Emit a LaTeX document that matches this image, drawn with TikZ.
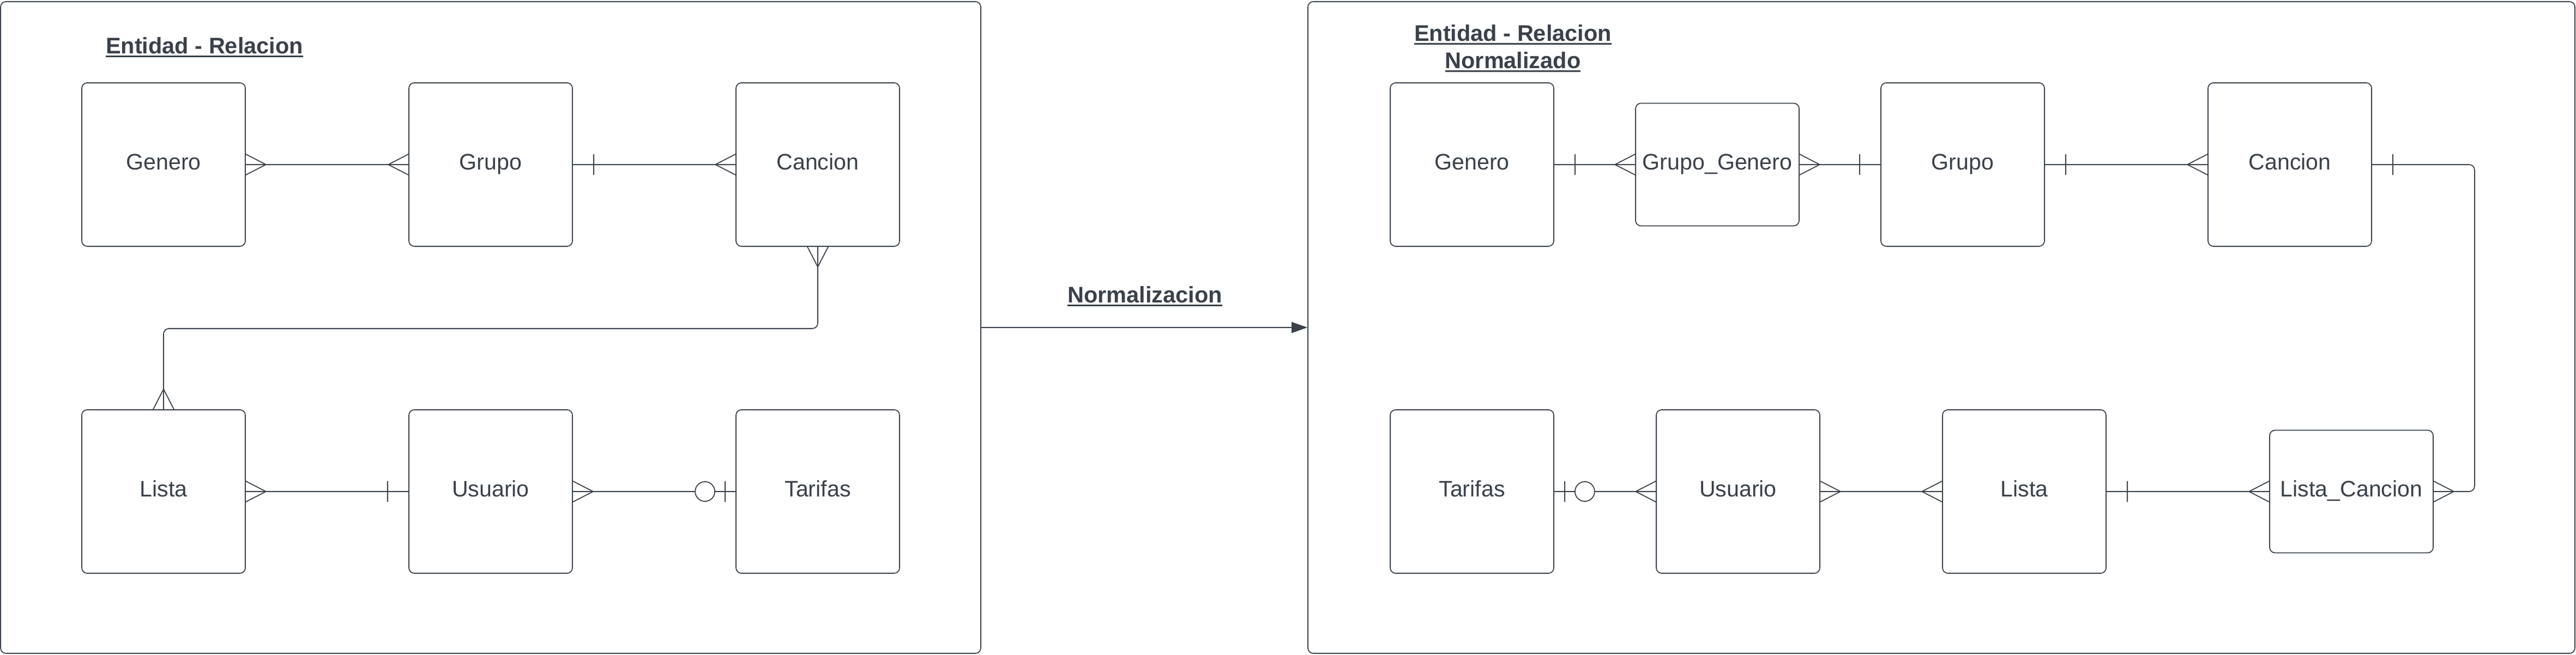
\documentclass[tikz,border=0pt]{standalone}
\usepackage{fontspec}
\setmainfont{Liberation Sans}
\usepackage{tikz}
\usetikzlibrary{arrows.meta}
\definecolor{tinta}{HTML}{3A414A}
\newcommand{\subrayado}[1]{\setbox0=\hbox{#1}\rlap{\rule[-0.065cm]{\wd0}{0.035cm}}\box0}
\newcommand{\muchos}[2]{\draw[arrow style rel,shift={(#1)},rotate=#2] (0,0.19)--(0.37,0)--(0,-0.19);}
\newcommand{\uno}[2]{\draw[arrow style rel,shift={(#1)},rotate=#2] (0.38,0.19)--(0.38,-0.19);}
\newcommand{\ceroUno}[2]{\draw[arrow style rel,shift={(#1)},rotate=#2] (0.19,0.19)--(0.19,-0.19);
  \draw[arrow style rel,fill=white,shift={(#1)},rotate=#2] (0.56,0) circle (0.18);}
\tikzset{
    node style ent/.style={draw=tinta,rounded corners=0.1cm,line width=0.5pt,minimum width=3cm,minimum height=3cm,inner sep=0,text=tinta,font=\fontsize{11.7}{14}\selectfont,text height=0.3cm,text depth=0.1cm},
    node style tab/.style={node style ent,minimum height=2.25cm},
    node style marco/.style={draw=tinta,rounded corners=0.1cm,line width=0.5pt,inner sep=0,minimum height=11.96cm},
    node style tit/.style={text=tinta,inner sep=0,font=\bfseries\fontsize{11.8}{14.2}\selectfont},
    arrow style rel/.style={draw=tinta,line width=0.5pt},
    arrow style lin/.style={draw=tinta,line width=0.5pt,rounded corners=0.1cm},
}

\begin{document}
\begin{tikzpicture}[>={Triangle[length=0.29cm,width=0.2cm]}]
\useasboundingbox (0,0) rectangle (47.25,-12.02);

\node [node style marco,minimum width=17.98cm] (izq) at (9.00,-6.01) {};
\node [node style marco,minimum width=23.24cm] (der) at (35.61,-6.01) {};

\node [node style tit,anchor=base] (tit1) at (3.75,-0.99) {\subrayado{Entidad - Relacion}};
\node [node style tit,anchor=north,align=center] (tit2) at (27.75,-0.45) {\subrayado{Entidad - Relacion}\\\subrayado{Normalizado}};
\node [node style tit,anchor=base] (normal) at (21.00,-5.56) {\subrayado{Normalizacion}};
\draw [arrow style rel,fill=tinta,->] (izq.east)--(der.west);

\node [node style ent] (genero1) at (3.00,-3.02) {Genero};
\node [node style ent] (grupo1) at (9.00,-3.02) {Grupo};
\node [node style ent] (cancion1) at (15.00,-3.02) {Cancion};
\node [node style ent] (lista1) at (3.00,-9.02) {Lista};
\node [node style ent] (usuario1) at (9.00,-9.02) {Usuario};
\node [node style ent] (tarifas1) at (15.00,-9.02) {Tarifas};

\draw [arrow style rel] (genero1.east)--(grupo1.west);
\draw [arrow style rel] (grupo1.east)--(cancion1.west);
\draw [arrow style lin] (cancion1.south)--++(0,-1.5)-|(lista1.north);
\draw [arrow style rel] (lista1.east)--(usuario1.west);
\draw [arrow style rel] (usuario1.east)--(tarifas1.west);
\muchos{genero1.east}{0} \muchos{grupo1.west}{180}
\uno{grupo1.east}{0} \muchos{cancion1.west}{180}
\muchos{cancion1.south}{-90} \muchos{lista1.north}{90}
\muchos{lista1.east}{0} \uno{usuario1.west}{180}
\muchos{usuario1.east}{0} \ceroUno{tarifas1.west}{180}

\node [node style ent] (genero2) at (27.00,-3.02) {Genero};
\node [node style tab] (grupoGenero2) at (31.50,-3.02) {Grupo\_Genero};
\node [node style ent] (grupo2) at (36.00,-3.02) {Grupo};
\node [node style ent] (cancion2) at (42.00,-3.02) {Cancion};
\node [node style ent] (tarifas2) at (27.00,-9.02) {Tarifas};
\node [node style ent] (usuario2) at (31.88,-9.02) {Usuario};
\node [node style ent] (lista2) at (37.13,-9.02) {Lista};
\node [node style tab] (listaCancion2) at (43.13,-9.02) {Lista\_Cancion};

\draw [arrow style rel] (genero2.east)--(grupoGenero2.west);
\draw [arrow style rel] (grupoGenero2.east)--(grupo2.west);
\draw [arrow style rel] (grupo2.east)--(cancion2.west);
\draw [arrow style lin] (cancion2.east)--++(1.88,0)|-(listaCancion2.east);
\draw [arrow style rel] (tarifas2.east)--(usuario2.west);
\draw [arrow style rel] (usuario2.east)--(lista2.west);
\draw [arrow style rel] (lista2.east)--(listaCancion2.west);
\uno{genero2.east}{0} \muchos{grupoGenero2.west}{180}
\muchos{grupoGenero2.east}{0} \uno{grupo2.west}{180}
\uno{grupo2.east}{0} \muchos{cancion2.west}{180}
\uno{cancion2.east}{0} \muchos{listaCancion2.east}{0}
\ceroUno{tarifas2.east}{0} \muchos{usuario2.west}{180}
\muchos{usuario2.east}{0} \muchos{lista2.west}{180}
\uno{lista2.east}{0} \muchos{listaCancion2.west}{180}

\end{tikzpicture}
\end{document}
